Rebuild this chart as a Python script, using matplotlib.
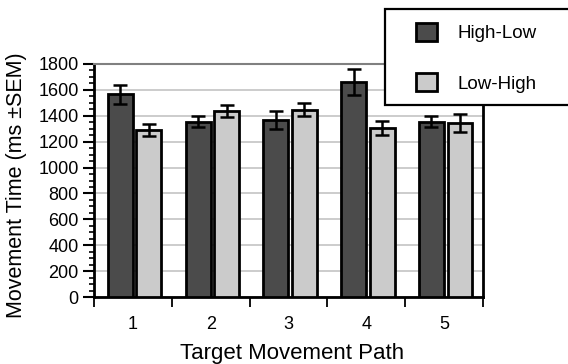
import matplotlib
matplotlib.use("Agg")
import matplotlib.pyplot as plt
import numpy as np
from matplotlib.patches import Rectangle

categories = ["1", "2", "3", "4", "5"]
high_low = [1565, 1355, 1370, 1660, 1355]
high_low_err = [75, 45, 70, 98, 42]
low_high = [1290, 1435, 1445, 1305, 1345]
low_high_err = [45, 47, 50, 52, 72]
series_names = ["High-Low", "Low-High"]
yticks = [0, 200, 400, 600, 800, 1000, 1200, 1400, 1600, 1800]

plt.rcParams['font.family'] = ['Liberation Sans', 'DejaVu Sans']

W, H = 568, 364
fig = plt.figure(figsize=(W / 100, H / 100), dpi=100)
ax = fig.add_axes([94 / W, 1 - 297 / H, (483 - 94) / W, (297 - 64) / H])

x = np.arange(1, len(categories) + 1)
bw = 0.32
dark, light = "#4b4b4b", "#cbcbcb"
ekw = dict(ecolor="black", elinewidth=1.8, capsize=5, capthick=1.8)
b1 = ax.bar(x - 0.162, high_low, bw, yerr=high_low_err, color=dark,
            edgecolor="black", linewidth=2, error_kw=ekw, zorder=3,
            label=series_names[0])
b2 = ax.bar(x + 0.205, low_high, bw, yerr=low_high_err, color=light,
            edgecolor="black", linewidth=2, error_kw=ekw, zorder=3,
            label=series_names[1])

ax.set_xlim(0.5, len(categories) + 0.5)
ax.set_ylim(0, 1800)
ax.set_yticks(yticks)
ax.set_yticklabels([str(v) for v in yticks])
ax.set_yticks(np.arange(0, 1801, 50), minor=True)
ax.yaxis.grid(True, color="#c4c4c4", linewidth=1.2, zorder=0)
ax.set_axisbelow(True)

# x: ticks at boundaries, labels at centers
ax.set_xticks(np.arange(0.5, len(categories) + 1, 1.0))
ax.set_xticklabels([])
ax.set_xticks(x, minor=True)
ax.set_xticklabels(categories, minor=True)
ax.tick_params(axis="x", which="major", direction="out", length=7, width=1.3)
ax.tick_params(axis="x", which="minor", length=0, pad=14, labelsize=13)
ax.tick_params(axis="y", which="major", direction="out", length=8, width=1.5,
               labelsize=13, pad=3)
ax.tick_params(axis="y", which="minor", direction="out", length=3.5, width=1.2)

for s in ["left", "bottom", "right"]:
    ax.spines[s].set_linewidth(2)
    ax.spines[s].set_color("black")
ax.spines["top"].set_color("#808080")
ax.spines["top"].set_linewidth(1.5)

fig.text(17 / W, 1 - 185 / H, "Movement Time (ms \u00b1SEM)", rotation=90,
         ha="center", va="center", fontsize=15.5)
fig.text(292 / W, 1 - 354 / H, "Target Movement Path", ha="center",
         va="center", fontsize=16)

# legend frame and entries
frame = Rectangle((385 / W, 1 - 105 / H), (600 - 385) / W, (105 - 9) / H,
                  transform=fig.transFigure, facecolor="white",
                  edgecolor="black", linewidth=1.6, zorder=5)
fig.patches.append(frame)
leg = fig.legend(handles=[b1, b2], labels=series_names, loc="upper left",
                 bbox_to_anchor=(416 / W, 1 - 23 / H), frameon=False,
                 fontsize=13.5, handlelength=1.1, handleheight=1.1,
                 handletextpad=1.1, labelspacing=1.65, borderpad=0,
                 borderaxespad=0)
leg.set_zorder(6)

fig.savefig("out.png", dpi=100)
